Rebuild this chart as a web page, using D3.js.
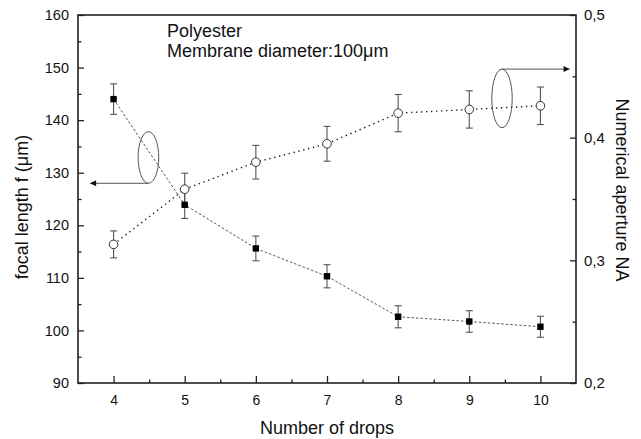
<!DOCTYPE html>
<html>
<head>
<meta charset="utf-8">
<script src="https://cdn.jsdelivr.net/npm/d3@7"></script>
<style>
  body { margin: 0; background: #fff; }
  svg text { font-family: "Liberation Sans", Arial, sans-serif; fill: #111; }
</style>
</head>
<body>
<svg id="chart" width="641" height="439"></svg>
<script>
// values
const drops = [4, 5, 6, 7, 8, 9, 10];
const focal = [144.0, 123.9, 115.6, 110.3, 102.6, 101.7, 100.7];
const focalErr = [2.9, 2.6, 2.35, 2.2, 2.1, 2.05, 2.0];
const aperture = [0.313, 0.358, 0.380, 0.395, 0.420, 0.423, 0.426];
const apertureErr = [0.011, 0.013, 0.0137, 0.0142, 0.0152, 0.0152, 0.0153];

const xTicks = [4, 5, 6, 7, 8, 9, 10];
const leftTicks = [90, 100, 110, 120, 130, 140, 150, 160];
const rightTicks = [0.2, 0.3, 0.4, 0.5];
const notes = ['Polyester', 'Membrane diameter:100\u03bcm'];

const width = 641, height = 439;
const margin = {left: 78, top: 15, right: 65, bottom: 56};
const plotW = width - margin.left - margin.right;
const plotH = height - margin.top - margin.bottom;

const svg = d3.select('#chart');

const defs = svg.append('defs');
defs.append('marker')
  .attr('id', 'arrow')
  .attr('viewBox', '0 0 10 10')
  .attr('refX', 10).attr('refY', 5)
  .attr('markerWidth', 11).attr('markerHeight', 6)
  .attr('markerUnits', 'userSpaceOnUse')
  .attr('orient', 'auto')
  .append('path')
  .attr('d', 'M0,0 L10,5 L0,10 Z')
  .attr('fill', '#111');

const g = svg.append('g')
  .attr('transform', 'translate(' + margin.left + ',' + margin.top + ')');

const x = d3.scaleLinear().domain([3.5, 10.5]).range([0, plotW]);
const yL = d3.scaleLinear().domain([90, 160]).range([plotH, 0]);
const yR = d3.scaleLinear().domain([0.2, 0.5]).range([plotH, 0]);

// minor ticks (inside)
function minorAxis(axis, scale, values) {
  return axis(scale).tickValues(values).tickSize(-3.5).tickFormat('');
}
const xMinor = [4.5, 5.5, 6.5, 7.5, 8.5, 9.5];
const lMinor = [95, 105, 115, 125, 135, 145, 155];
const rMinor = [0.25, 0.35, 0.45];

g.append('g')
  .attr('transform', 'translate(0,' + plotH + ')')
  .call(minorAxis(d3.axisBottom, x, xMinor));
g.append('g')
  .call(minorAxis(d3.axisLeft, yL, lMinor));
g.append('g')
  .attr('transform', 'translate(' + plotW + ',0)')
  .call(minorAxis(d3.axisRight, yR, rMinor));

// major axes
const xAxis = g.append('g')
  .attr('transform', 'translate(0,' + plotH + ')')
  .call(d3.axisBottom(x).tickValues(xTicks).tickSize(-7).tickPadding(12).tickFormat(d3.format('d')));
xAxis.selectAll('text').style('font-size', '14px');

const lAxis = g.append('g')
  .call(d3.axisLeft(yL).tickValues(leftTicks).tickSize(-6).tickPadding(9));
lAxis.selectAll('text').style('font-size', '14.5px');

const rAxis = g.append('g')
  .attr('transform', 'translate(' + plotW + ',0)')
  .call(d3.axisRight(yR).tickValues(rightTicks).tickSize(-6).tickPadding(8)
    .tickFormat(d => d3.format('.1f')(d).replace('.', ',')));
rAxis.selectAll('text').style('font-size', '15px');

svg.selectAll('.domain').remove();
svg.selectAll('.tick line').attr('stroke', '#222').attr('stroke-width', 1.3);

// frame
g.append('rect')
  .attr('width', plotW).attr('height', plotH)
  .attr('fill', 'none').attr('stroke', '#222').attr('stroke-width', 1.6);

// series
const focalPts = drops.map((d, i) => ({x: d, y: focal[i], e: focalErr[i]}));
const naPts = drops.map((d, i) => ({x: d, y: aperture[i], e: apertureErr[i]}));

g.append('path')
  .datum(focalPts)
  .attr('fill', 'none').attr('stroke', '#555').attr('stroke-width', 1)
  .attr('stroke-dasharray', '2.5 2')
  .attr('d', d3.line().x(d => x(d.x)).y(d => yL(d.y)));

g.append('path')
  .datum(naPts)
  .attr('fill', 'none').attr('stroke', '#222').attr('stroke-width', 1.4)
  .attr('stroke-dasharray', '1.4 3.6')
  .attr('d', d3.line().x(d => x(d.x)).y(d => yR(d.y)));

function errorBars(pts, scale) {
  const eb = g.append('g').attr('stroke', '#555').attr('stroke-width', 1.1);
  pts.forEach(p => {
    const cx = x(p.x), y1 = scale(p.y + p.e), y2 = scale(p.y - p.e);
    eb.append('line').attr('x1', cx).attr('x2', cx).attr('y1', y1).attr('y2', y2);
    eb.append('line').attr('x1', cx - 3.5).attr('x2', cx + 3.5).attr('y1', y1).attr('y2', y1);
    eb.append('line').attr('x1', cx - 3.5).attr('x2', cx + 3.5).attr('y1', y2).attr('y2', y2);
  });
}
errorBars(focalPts, yL);
errorBars(naPts, yR);

g.selectAll('.sq')
  .data(focalPts)
  .join('rect')
  .attr('class', 'sq')
  .attr('x', d => x(d.x) - 3.2).attr('y', d => yL(d.y) - 3.2)
  .attr('width', 6.4).attr('height', 6.4)
  .attr('fill', '#000');

g.selectAll('.ci')
  .data(naPts)
  .join('circle')
  .attr('class', 'ci')
  .attr('cx', d => x(d.x)).attr('cy', d => yR(d.y))
  .attr('r', 4.3)
  .attr('fill', '#fff').attr('stroke', '#333').attr('stroke-width', 1);

// ellipse + arrow annotations
const leftEl = {x: 4.49, y: 132.9, rx: 10.3, ry: 25.8};
g.append('ellipse')
  .attr('cx', x(leftEl.x)).attr('cy', yL(leftEl.y))
  .attr('rx', leftEl.rx).attr('ry', leftEl.ry)
  .attr('fill', 'none').attr('stroke', '#555').attr('stroke-width', 1);
g.append('line')
  .attr('x1', x(leftEl.x)).attr('y1', yL(leftEl.y) + leftEl.ry)
  .attr('x2', x(3.67)).attr('y2', yL(leftEl.y) + leftEl.ry)
  .attr('stroke', '#555').attr('stroke-width', 1)
  .attr('marker-end', 'url(#arrow)');

const rightEl = {x: 9.46, y: 0.432, rx: 10.2, ry: 29.3};
g.append('ellipse')
  .attr('cx', x(rightEl.x)).attr('cy', yR(rightEl.y))
  .attr('rx', rightEl.rx).attr('ry', rightEl.ry)
  .attr('fill', 'none').attr('stroke', '#555').attr('stroke-width', 1);
g.append('line')
  .attr('x1', x(rightEl.x)).attr('y1', yR(rightEl.y) - rightEl.ry)
  .attr('x2', x(10.41)).attr('y2', yR(rightEl.y) - rightEl.ry)
  .attr('stroke', '#555').attr('stroke-width', 1)
  .attr('marker-end', 'url(#arrow)');

// notes
g.selectAll('.note')
  .data(notes)
  .join('text')
  .attr('class', 'note')
  .attr('x', 89).attr('y', (d, i) => 22 + i * 20)
  .style('font-size', '18px')
  .text(d => d);

// axis titles
svg.append('text')
  .attr('x', margin.left + plotW / 2).attr('y', 434)
  .attr('text-anchor', 'middle').style('font-size', '18px')
  .text('Number of drops');

svg.append('text')
  .attr('transform', 'translate(28,207) rotate(-90)')
  .attr('text-anchor', 'middle').style('font-size', '18px')
  .text('focal length f (\u03bcm)');

svg.append('text')
  .attr('transform', 'translate(616,190) rotate(90)')
  .attr('text-anchor', 'middle').style('font-size', '18px')
  .text('Numerical aperture NA');
</script>
</body>
</html>
